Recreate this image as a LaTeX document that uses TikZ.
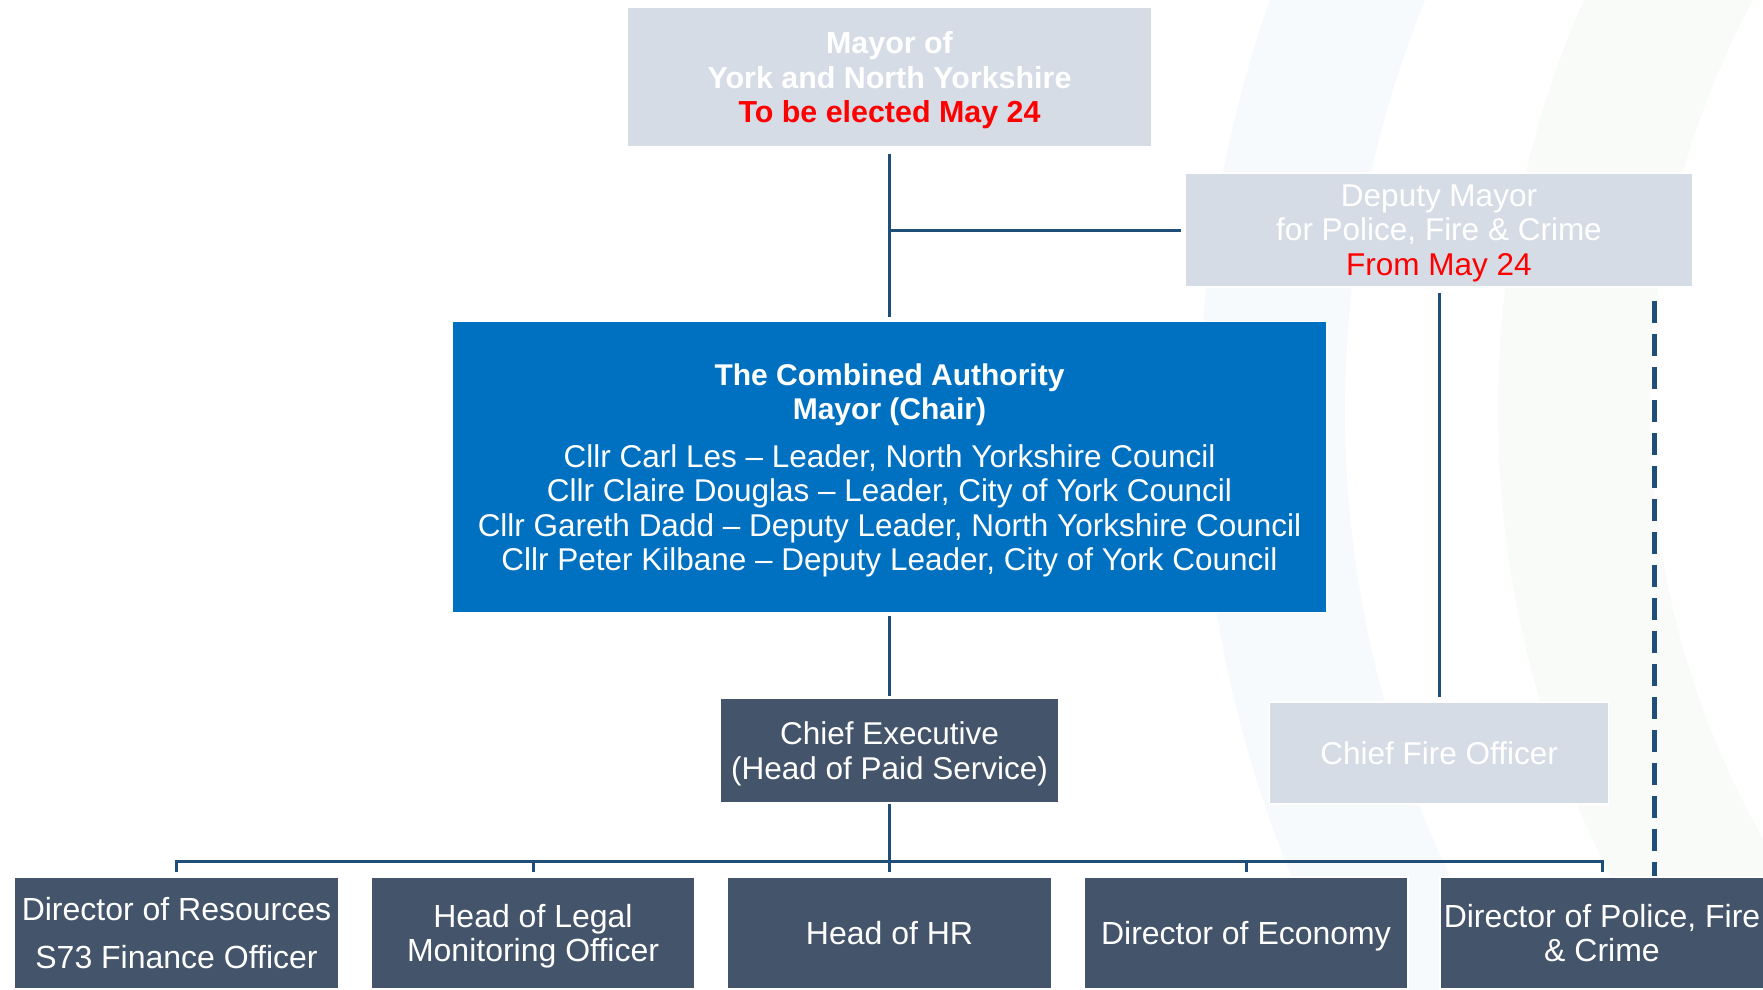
\documentclass[tikz,border=0pt]{standalone}
\usepackage{fontspec}
\setmainfont{Liberation Sans}
\definecolor{paleGrey}{HTML}{D6DCE5}
\definecolor{caBlue}{HTML}{0070C0}
\definecolor{slateBlue}{HTML}{44546A}
\definecolor{linkBlue}{HTML}{1F4E79}
\definecolor{faintBlue}{HTML}{F7FAFC}
\definecolor{faintGreen}{HTML}{F8FBF8}

\begin{document}
\begin{tikzpicture}[x=1pt,y=-1pt,
                box/.style={rectangle,inner sep=0pt,align=center,text=white,text depth=0pt,
                  draw=white,line width=1.5pt,font=\fontsize{31.5}{34.3}\selectfont},
                pale node/.style={box,fill=paleGrey},
                dark node/.style={box,fill=slateBlue,minimum width=324pt,minimum height=112pt,
                  font=\fontsize{32}{34.3}\selectfont},
                link/.style={draw=linkBlue,line width=3pt}]

  \fill[white] (0,0) rectangle (1763,989);
  \useasboundingbox (0,0) rectangle (1763,989);
  % faint arcs in the background
  \fill[faintBlue,even odd rule] (2430,410) circle (1230) (2430,410) circle (1085);
  \fill[faintGreen,even odd rule] (2518,410) circle (1020) (2518,410) circle (868);

  \node[pale node,minimum width=524pt,minimum height=140pt,
        font=\fontsize{30.4}{34.3}\selectfont\bfseries] (1) at (889.5,77)
        {Mayor of\\York and North Yorkshire\\\textcolor{red}{To be elected May 24}};
  \node[pale node,minimum width=508pt,minimum height=114pt] (2) at (1439,230)
        {Deputy Mayor\\for Police, Fire \& Crime\\\textcolor{red}{From May 24}};
  \node[box,fill=caBlue,minimum width=875pt,minimum height=291pt] (3) at (889.5,467)
        {{\fontsize{30}{34.3}\selectfont\bfseries The Combined Authority}\\
         {\fontsize{30}{34.3}\selectfont\bfseries Mayor (Chair)}\\[13.7pt]
         Cllr Carl Les -- Leader, North Yorkshire Council\\
         Cllr Claire Douglas -- Leader, City of York Council\\
         Cllr Gareth Dadd -- Deputy Leader, North Yorkshire Council\\
         Cllr Peter Kilbane -- Deputy Leader, City of York Council};
  \node[box,fill=slateBlue,minimum width=338pt,minimum height=105pt] (4) at (889.5,750.5)
        {Chief Executive\\(Head of Paid Service)};
  \node[pale node,minimum width=339pt,minimum height=102pt] (5) at (1439,753) {Chief Fire Officer};

  \node[dark node] (6) at (176.5,933) {Director of Resources\\[13.7pt]S73 Finance Officer};
  \node[dark node] (7) at (533,933) {Head of Legal\\Monitoring Officer};
  \node[dark node] (8) at (889.5,933) {Head of HR};
  \node[dark node] (9) at (1246,933) {Director of Economy};
  \node[dark node] (10) at (1602,933) {Director of Police, Fire\\\& Crime};

  \coordinate (bus) at (889.5,861);
  \coordinate (11) at ([xshift=-39pt]2.south east);

  \path[link]
    (1) edge[shorten <=6pt,shorten >=4pt] (3)
    (2.west) edge[shorten <=3pt] (2.west -| 1)
    (2) edge[shorten <=5pt,shorten >=4pt] (5)
    (3) edge[shorten <=3pt,shorten >=1pt] (4)
    (4) edge[shorten >=4pt] (8)
    (7) edge[shorten <=4pt] (7 |- bus)
    (9) edge[shorten <=4pt] (9 |- bus);
  \draw[link,shorten <=4pt,shorten >=4pt] (6) |- (bus) -| (10);
  \draw[link,line width=5pt,dash pattern=on 22pt off 11pt,shorten <=13pt] (11) -- (11 |- 10.north);
\end{tikzpicture}
\end{document}
